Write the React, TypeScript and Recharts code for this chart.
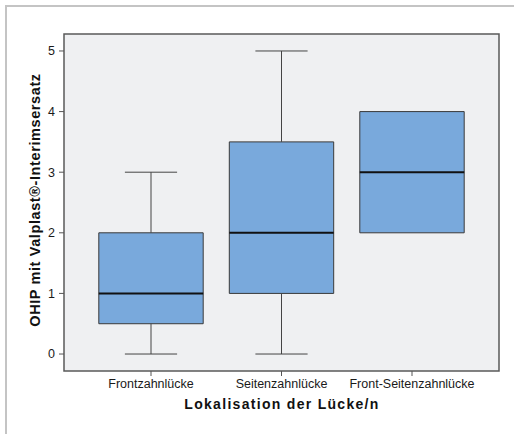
import React from "react";
import { ComposedChart, XAxis, YAxis, ReferenceArea, ReferenceLine, Scatter } from "recharts";

const categories = ["Frontzahnlücke", "Seitenzahnlücke", "Front-Seitenzahnlücke"];
const mins = [0, 0, 2];
const q1s = [0.5, 1, 2];
const medians = [1, 2, 3];
const q3s = [2, 3.5, 4];
const maxs = [3, 5, 4];
const yTicks = [0, 1, 2, 3, 4, 5];

const data = categories.map((c, i) => ({
  x: i + 1,
  name: c,
  min: mins[i],
  q1: q1s[i],
  median: medians[i],
  q3: q3s[i],
  max: maxs[i],
}));

const X_DOMAIN: [number, number] = [1 / 3, 11 / 3];
const Y_DOMAIN: [number, number] = [-0.28, 5.28];
const BOX_HALF = 0.4;
const CAP_HALF = 0.2;
const FONT = "'Liberation Sans', Arial, Helvetica, sans-serif";

export default function App() {
  return (
    <div style={{ position: "absolute", left: 0, top: 0, width: 514, height: 434, overflow: "hidden", background: "#fff", fontFamily: FONT }}>
      <div style={{ position: "absolute", left: 5, top: 5, width: 700, height: 700, borderTop: "2px solid #c4c4c4", borderLeft: "2px solid #c4c4c4" }} />
      <ComposedChart width={514} height={434} data={data} margin={{ top: 34, right: 15, bottom: 0, left: 0 }} style={{ position: "absolute", left: 0, top: 0 }}>
        <XAxis
          type="number"
          dataKey="x"
          domain={X_DOMAIN}
          ticks={[1, 2, 3]}
          allowDataOverflow
          height={63}
          tickFormatter={(v: number) => categories[Math.round(v) - 1] ?? ""}
          tick={{ fontSize: 12.5, fill: "#1a1a1a", fontFamily: FONT }}
          tickLine={{ stroke: "#555" }}
          axisLine={false}
          tickSize={5}
          tickMargin={3}
        />
        <YAxis
          type="number"
          domain={Y_DOMAIN}
          ticks={yTicks}
          allowDataOverflow
          width={64}
          tick={{ fontSize: 12.5, fill: "#1a1a1a", fontFamily: FONT }}
          tickLine={{ stroke: "#555" }}
          axisLine={false}
          tickSize={5}
          tickMargin={4}
        />
        <ReferenceArea x1={X_DOMAIN[0]} x2={X_DOMAIN[1]} y1={Y_DOMAIN[0]} y2={Y_DOMAIN[1]} fill="#eff0f2" fillOpacity={1} stroke="#5a5a5a" strokeWidth={1.5} ifOverflow="visible" />
        {data.map((d) => (
          <ReferenceLine key={"lw" + d.x} segment={[{ x: d.x, y: d.min }, { x: d.x, y: d.q1 }]} stroke="#444" strokeWidth={1} ifOverflow="visible" />
        ))}
        {data.map((d) => (
          <ReferenceLine key={"uw" + d.x} segment={[{ x: d.x, y: d.q3 }, { x: d.x, y: d.max }]} stroke="#444" strokeWidth={1} ifOverflow="visible" />
        ))}
        {data.filter((d) => d.min < d.q1).map((d) => (
          <ReferenceLine key={"lc" + d.x} segment={[{ x: d.x - CAP_HALF, y: d.min }, { x: d.x + CAP_HALF, y: d.min }]} stroke="#444" strokeWidth={1} ifOverflow="visible" />
        ))}
        {data.filter((d) => d.max > d.q3).map((d) => (
          <ReferenceLine key={"uc" + d.x} segment={[{ x: d.x - CAP_HALF, y: d.max }, { x: d.x + CAP_HALF, y: d.max }]} stroke="#444" strokeWidth={1} ifOverflow="visible" />
        ))}
        {data.map((d) => (
          <ReferenceArea key={"box" + d.x} x1={d.x - BOX_HALF} x2={d.x + BOX_HALF} y1={d.q1} y2={d.q3} fill="#79a9dc" fillOpacity={1} stroke="#3a3a3a" strokeWidth={1} ifOverflow="visible" />
        ))}
        {data.map((d) => (
          <ReferenceLine key={"med" + d.x} segment={[{ x: d.x - BOX_HALF, y: d.median }, { x: d.x + BOX_HALF, y: d.median }]} stroke="#111" strokeWidth={2} ifOverflow="visible" />
        ))}
        <Scatter dataKey="median" isAnimationActive={false} shape={() => <g />} />
      </ComposedChart>
      <div style={{ position: "absolute", left: 35 - 160, top: 200 - 9, width: 320, height: 18, lineHeight: "18px", textAlign: "center", transform: "rotate(-90deg)", fontWeight: "bold", fontSize: 14.5, letterSpacing: 0.6, color: "#111" }}>
        OHIP mit Valplast®-Interimsersatz
      </div>
      <div style={{ position: "absolute", left: 282 - 160, top: 404 - 9, width: 320, height: 18, lineHeight: "18px", textAlign: "center", fontWeight: "bold", fontSize: 14, letterSpacing: 1.3, color: "#111" }}>
        Lokalisation der Lücke/n
      </div>
    </div>
  );
}
